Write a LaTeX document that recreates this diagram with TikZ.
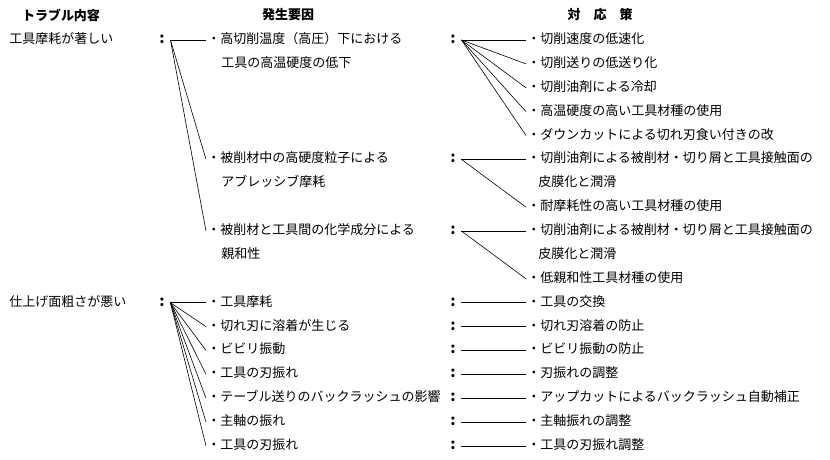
\documentclass[tikz,border=0pt]{standalone}
\usepackage{fontspec}
\setmainfont{Noto Sans CJK JP}

\tikzset{
  txt/.style={anchor=west, inner sep=1pt, text height=9pt, text depth=2pt},
  colon/.style={inner xsep=5.5pt, inner ysep=1pt, text height=9pt, text depth=2pt, font=\fontsize{15}{15}\selectfont\bfseries},
  hd/.style={font=\fontsize{13}{15}\selectfont\bfseries},
}

\begin{document}
\begin{tikzpicture}[x=1pt, y=-1pt, font=\fontsize{13}{15}\selectfont, line width=0.6pt]
\useasboundingbox (0,0) rectangle (830,460);

% headings
\node[hd] (h1) at (61,15) {トラブル内容};
\node[hd] (h2) at (288,15) {発生要因};
\node[hd] (h3) at (600,15) {対　応　策};

% trouble 1: tool wear, three causes
\node[txt] (t1) at (8,40) {工具摩耗が著しい};
\node[colon] (t1c) at (162,40) {:};
\node[txt] (a1) at (206,40) {・高切削温度（高圧）下における};
\node[txt] (a1b) at (220,63.9) {工具の高温硬度の低下};
\node[txt] (a2) at (206,159.4) {・被削材中の高硬度粒子による};
\node[txt] (a2b) at (220,183.3) {アブレッシブ摩耗};
\node[txt] (a3) at (206,231) {・被削材と工具間の化学成分による};
\node[txt] (a3b) at (220,254.9) {親和性};
\draw (t1c.east) -- (a1.west);
\draw (t1c.east) -- (a2.west);
\draw (t1c.east) -- (a3.west);

% remedies for cause a1
\node[colon] (a1c) at (453,40) {:};
\node[txt] (r11) at (526,40) {・切削速度の低速化};
\node[txt] (r12) at (526,63.9) {・切削送りの低送り化};
\node[txt] (r13) at (526,87.8) {・切削油剤による冷却};
\node[txt] (r14) at (526,111.6) {・高温硬度の高い工具材種の使用};
\node[txt] (r15) at (526,135.5) {・ダウンカットによる切れ刃食い付きの改};
\draw (a1c.east) -- (r11.west);
\draw (a1c.east) -- (r12.west);
\draw (a1c.east) -- (r13.west);
\draw (a1c.east) -- (r14.west);
\draw (a1c.east) -- (r15.west);

% remedies for cause a2
\node[colon] (a2c) at (453,159.4) {:};
\node[txt] (r21) at (526,159.4) {・切削油剤による被削材・切り屑と工具接触面の};
\node[txt] (r21b) at (537,183.3) {皮膜化と潤滑};
\node[txt] (r22) at (526,207.2) {・耐摩耗性の高い工具材種の使用};
\draw (a2c.east) -- (r21.west);
\draw (a2c.east) -- (r22.west);

% remedies for cause a3
\node[colon] (a3c) at (453,231) {:};
\node[txt] (r31) at (526,231) {・切削油剤による被削材・切り屑と工具接触面の};
\node[txt] (r31b) at (537,254.9) {皮膜化と潤滑};
\node[txt] (r32) at (526,278.8) {・低親和性工具材種の使用};
\draw (a3c.east) -- (r31.west);
\draw (a3c.east) -- (r32.west);

% trouble 2: poor surface roughness, seven causes
\node[txt] (t2) at (8,302.7) {仕上げ面粗さが悪い};
\node[colon] (t2c) at (162,302.7) {:};
\node[txt] (b1) at (206,302.7) {・工具摩耗};
\node[txt] (b2) at (206,326.6) {・切れ刃に溶着が生じる};
\node[txt] (b3) at (206,350.4) {・ビビリ振動};
\node[txt] (b4) at (206,374.3) {・工具の刃振れ};
\node[txt] (b5) at (206,398.2) {・テーブル送りのバックラッシュの影響};
\node[txt] (b6) at (206,422.1) {・主軸の振れ};
\node[txt] (b7) at (206,446) {・工具の刃振れ};
\draw (t2c.east) -- (b1.west);
\draw (t2c.east) -- (b2.west);
\draw (t2c.east) -- (b3.west);
\draw (t2c.east) -- (b4.west);
\draw (t2c.east) -- (b5.west);
\draw (t2c.east) -- (b6.west);
\draw (t2c.east) -- (b7.west);

% one remedy per cause
\node[colon] (b1c) at (453,302.7) {:};
\node[colon] (b2c) at (453,326.6) {:};
\node[colon] (b3c) at (453,350.4) {:};
\node[colon] (b4c) at (453,374.3) {:};
\node[colon] (b5c) at (453,398.2) {:};
\node[colon] (b6c) at (453,422.1) {:};
\node[colon] (b7c) at (453,446) {:};
\node[txt] (s1) at (526,302.7) {・工具の交換};
\node[txt] (s2) at (526,326.6) {・切れ刃溶着の防止};
\node[txt] (s3) at (526,350.4) {・ビビリ振動の防止};
\node[txt] (s4) at (526,374.3) {・刃振れの調整};
\node[txt] (s5) at (526,398.2) {・アップカットによるバックラッシュ自動補正};
\node[txt] (s6) at (526,422.1) {・主軸振れの調整};
\node[txt] (s7) at (526,446) {・工具の刃振れ調整};
\draw (b1c.east) -- (s1.west);
\draw (b2c.east) -- (s2.west);
\draw (b3c.east) -- (s3.west);
\draw (b4c.east) -- (s4.west);
\draw (b5c.east) -- (s5.west);
\draw (b6c.east) -- (s6.west);
\draw (b7c.east) -- (s7.west);

\end{tikzpicture}
\end{document}
